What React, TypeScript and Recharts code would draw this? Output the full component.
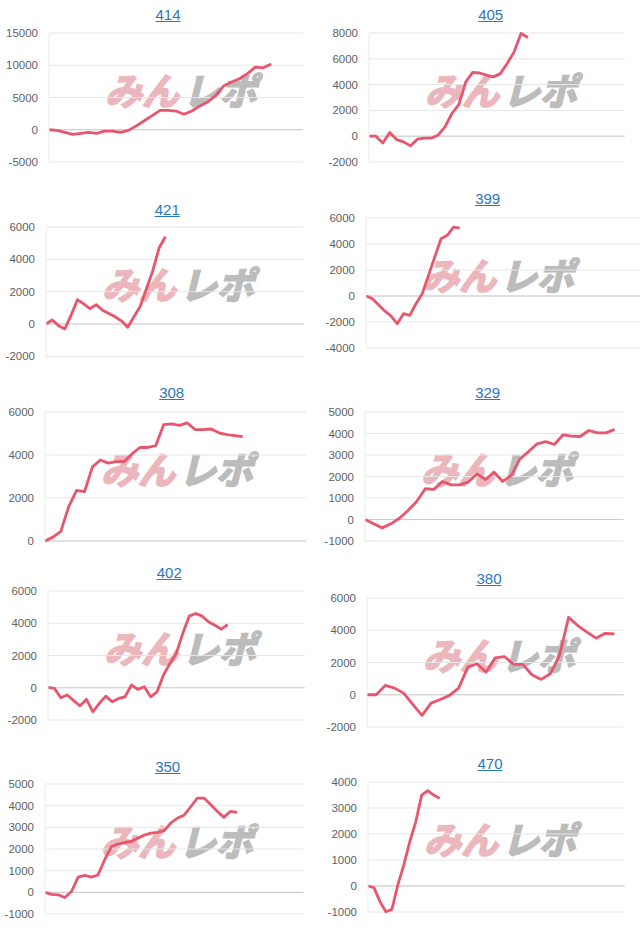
import { LineChart, Line, XAxis, YAxis, CartesianGrid, ReferenceLine } from 'recharts';

const titles = ['414', '405', '421', '399', '308', '329', '402', '380', '350', '470'];

const values414 = [0, -100, -400, -700, -550, -400, -550, -200, -200, -400, -100, 600, 1400, 2200, 3000, 3000, 2900, 2400, 2900, 3700, 4300, 5300, 6800, 7400, 7900, 8700, 9700, 9600, 10200];
const values405 = [0, 0, -520, 280, -260, -440, -750, -230, -150, -150, 80, 720, 1760, 2450, 4200, 4950, 4900, 4730, 4600, 4850, 5630, 6540, 7960, 7650];
const values421 = [0, 250, -100, -300, 550, 1500, 1250, 950, 1200, 850, 650, 450, 200, -200, 450, 1100, 2200, 3300, 4700, 5400];
const values399 = [0, -200, -670, -1150, -1540, -2130, -1360, -1490, -590, 180, 1590, 3000, 4400, 4670, 5300, 5230];
const values308 = [0, 180, 450, 1600, 2350, 2300, 3450, 3770, 3620, 3690, 3690, 4050, 4350, 4350, 4430, 5410, 5450, 5380, 5490, 5180, 5180, 5210, 5030, 4950, 4900, 4850];
const values329 = [0, -200, -390, -200, 60, 420, 840, 1430, 1400, 1770, 1610, 1610, 1740, 2120, 1860, 2200, 1770, 2050, 2820, 3160, 3520, 3620, 3490, 3940, 3880, 3860, 4140, 4030, 4030, 4190];
const values402 = [30, -40, -620, -450, -800, -1120, -720, -1490, -970, -520, -870, -660, -560, 170, -100, 60, -560, -250, 790, 1510, 2130, 3370, 4440, 4610, 4440, 4090, 3880, 3630, 3920];
const values380 = [0, 0, 580, 410, 100, -600, -1280, -520, -290, -40, 410, 1710, 1920, 1400, 2290, 2370, 1880, 1880, 1240, 950, 1300, 2430, 4800, 4290, 3880, 3510, 3810, 3770];
const values350 = [0, -90, -115, -240, 40, 700, 780, 700, 800, 1500, 2100, 2230, 2300, 2350, 2500, 2640, 2730, 2770, 2850, 3200, 3430, 3560, 3950, 4350, 4350, 4050, 3740, 3460, 3740, 3690];
const values470 = [0, -60, -600, -990, -900, 40, 810, 1710, 2470, 3500, 3670, 3500, 3370];

const ticks414 = [-5000, 0, 5000, 10000, 15000];
const ticks405 = [-2000, 0, 2000, 4000, 6000, 8000];
const ticks421 = [-2000, 0, 2000, 4000, 6000];
const ticks399 = [-4000, -2000, 0, 2000, 4000, 6000];
const ticks308 = [0, 2000, 4000, 6000];
const ticks329 = [-1000, 0, 1000, 2000, 3000, 4000, 5000];
const ticks402 = [-2000, 0, 2000, 4000, 6000];
const ticks380 = [-2000, 0, 2000, 4000, 6000];
const ticks350 = [-1000, 0, 1000, 2000, 3000, 4000, 5000];
const ticks470 = [-1000, 0, 1000, 2000, 3000, 4000];

// number of x slots on each chart's axis
const slotCounts = [32, 37, 41, 49, 33, 30, 40, 28, 39, 43];

const allValues = [values414, values405, values421, values399, values308, values329, values402, values380, values350, values470];
const allTicks = [ticks414, ticks405, ticks421, ticks399, ticks308, ticks329, ticks402, ticks380, ticks350, ticks470];

// plot box and title placement on the page: [left, right, top, bottom, titleX, titleY]
const layout = [
  [49.3, 303.3, 33.3, 162.3, 168, 15],
  [369.3, 625, 33.3, 162.3, 490.7, 15],
  [45.7, 303.3, 227.3, 356.7, 167.3, 210],
  [365.7, 672, 217.7, 347.7, 487.7, 199.3],
  [45, 306, 411.7, 540.7, 171.7, 393.3],
  [365, 623.3, 411.7, 540.7, 487.7, 393.3],
  [48.3, 305, 591, 720, 169.3, 572.7],
  [366.7, 623.3, 597.7, 726.7, 489, 579.3],
  [45, 303.3, 784.3, 914.3, 167.7, 766.7],
  [368.3, 625, 782.3, 912.3, 490, 764],
];

const FONT = '"Liberation Sans", Arial, sans-serif';
const AXIS_W = 45;
const PAD = 8;

function MiniChart({ idx }: { idx: number }) {
  const [left, right, top, bottom, tx, ty] = layout[idx];
  const ticks = allTicks[idx];
  const data = allValues[idx].map((v, i) => ({ x: i, v }));
  const w = right - left + AXIS_W + 2;
  const h = bottom - top + PAD * 2;
  return (
    <>
      <div
        style={{
          position: 'absolute', left: tx - 40, top: ty - 9, width: 80, height: 18,
          textAlign: 'center', fontFamily: FONT, fontSize: 15, lineHeight: '18px',
          color: '#2a78c2', textDecoration: 'underline',
        }}
      >
        {titles[idx]}
      </div>
      <div
        style={{
          position: 'absolute', left: left + 60, top: top + 40, whiteSpace: 'nowrap',
          fontFamily: '"Noto Sans CJK JP", sans-serif', fontWeight: 700,
          fontSize: 37, lineHeight: '32px', transform: 'skewX(-14deg)',
        }}
      >
        <span style={{ color: '#ecb7bc', WebkitTextStroke: '2px #ecb7bc' }}>みん</span>
        <span style={{ color: '#bcbcbc', WebkitTextStroke: '2px #bcbcbc', marginLeft: 4 }}>レポ</span>
      </div>
      <div style={{ position: 'absolute', left: left - AXIS_W, top: top - PAD }}>
        <LineChart width={w} height={h} data={data} margin={{ top: PAD, right: 2, bottom: PAD, left: 0 }}>
          <CartesianGrid vertical={false} stroke="#e6e6e6" />
          <XAxis type="number" dataKey="x" domain={[0, slotCounts[idx]]} hide />
          <YAxis
            type="number"
            width={AXIS_W}
            domain={[ticks[0], ticks[ticks.length - 1]]}
            ticks={ticks}
            interval={0}
            tickLine={false}
            tickSize={0}
            tickMargin={11}
            axisLine={{ stroke: '#ebebeb' }}
            tick={{ fill: '#5f5f5f', fontSize: 11.5, fontFamily: FONT }}
          />
          <ReferenceLine y={0} stroke="#cccccc" />
          <Line
            type="linear"
            dataKey="v"
            stroke="#e8556d"
            strokeWidth={2.8}
            dot={false}
            strokeLinejoin="round"
            isAnimationActive={false}
          />
        </LineChart>
      </div>
    </>
  );
}

export default function App() {
  return (
    <div style={{ position: 'absolute', left: 0, top: 0, width: 640, height: 931, overflow: 'hidden', background: '#fff' }}>
      {titles.map((_, i) => (
        <MiniChart key={i} idx={i} />
      ))}
    </div>
  );
}
